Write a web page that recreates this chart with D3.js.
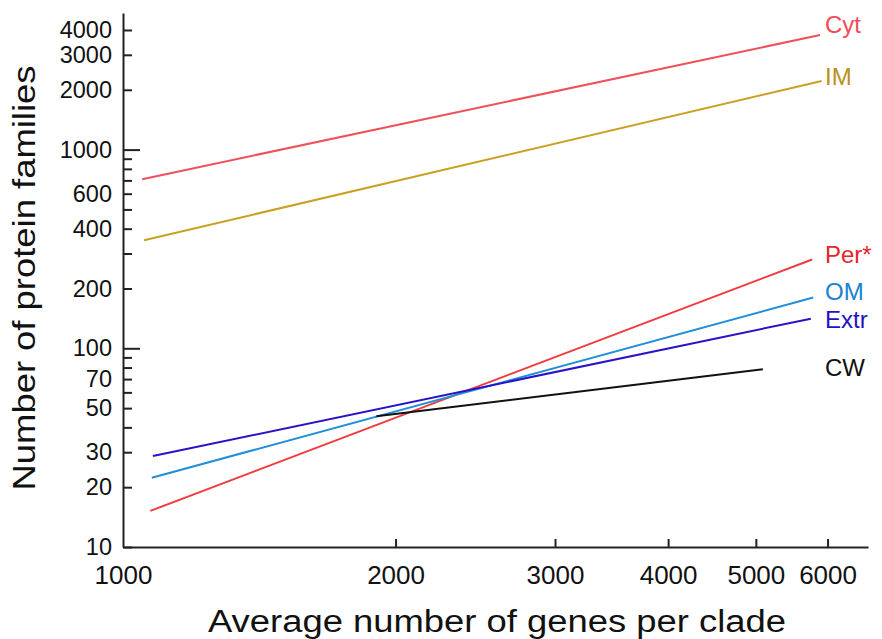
<!DOCTYPE html>
<html>
<head>
<meta charset="utf-8">
<script src="https://cdn.jsdelivr.net/npm/d3@7"></script>
<style>
  body { margin: 0; background: #fff; }
  svg text { font-family: "Liberation Sans", Arial, sans-serif; }
</style>
</head>
<body>
<svg id="chart" width="882" height="639"></svg>
<script>
// series (log-log fit lines, start and end points)
var series = ['Cyt', 'IM', 'Per*', 'OM', 'Extr', 'CW'];
var xStart = [1050, 1055, 1072, 1076, 1079, 1905];
var xEnd = [5886, 5910, 5770, 5785, 5750, 5090];
var yStart = [710, 350, 15.2, 22.3, 28.7, 45.5];
var yEnd = [3772, 2213, 280, 180, 141, 78.5];

var xTicks = [1000, 2000, 3000, 4000, 5000, 6000];
var yTicks = [10, 20, 30, 40, 50, 60, 70, 80, 90, 100,
  200, 300, 400, 500, 600, 700, 800, 900, 1000, 2000, 3000, 4000];
var yLabels = [10, 20, 30, 50, 70, 100, 200, 400, 600, 1000, 2000, 3000, 4000];

var lineColors = ['#f0505a', '#c9a020', '#f03a3e', '#1f8fd8', '#2a12c8', '#111111'];
var textColors = ['#ee4d57', '#b8921c', '#e8242c', '#1a82cf', '#2312c2', '#111111'];
var labelDy = [-10, -4, -5, -6, 1, -1.5];

var svg = d3.select('#chart');

var x = d3.scaleLog().domain([1000, 6650]).range([123, 868]);
var y = d3.scaleLog().domain([10, 4870]).range([547, 13]);

var xAxis = d3.axisBottom(x)
  .tickValues(xTicks)
  .tickSizeInner(-8)
  .tickSizeOuter(0)
  .tickPadding(19)
  .tickFormat(d3.format('d'));

var yAxis = d3.axisLeft(y)
  .tickValues(yTicks)
  .tickSizeInner(-9)
  .tickSizeOuter(0)
  .tickPadding(11)
  .tickFormat(function (d) { return yLabels.indexOf(d) >= 0 ? d : ''; });

var gx = svg.append('g')
  .attr('transform', 'translate(0,547)')
  .call(xAxis);

var gy = svg.append('g')
  .attr('transform', 'translate(123,0)')
  .call(yAxis);

[gx, gy].forEach(function (g) {
  g.select('.domain').attr('stroke', '#222').attr('stroke-width', 2);
  g.selectAll('.tick line').attr('stroke', '#222').attr('stroke-width', 2);
  g.selectAll('.tick text').attr('fill', '#111');
});
gx.selectAll('.tick text').style('font-size', '26px');
gy.selectAll('.tick text').style('font-size', '23.5px');

// longer ticks at the decades
gy.selectAll('.tick line')
  .filter(function (d) { return d === 100 || d === 1000; })
  .attr('x2', 17);
gx.selectAll('.tick')
  .filter(function (d) { return d === 1000; })
  .select('line').remove();

var lineGen = d3.line()
  .x(function (d) { return x(d[0]); })
  .y(function (d) { return y(d[1]); });

series.forEach(function (name, i) {
  svg.append('path')
    .attr('d', lineGen([[xStart[i], yStart[i]], [xEnd[i], yEnd[i]]]))
    .attr('stroke', lineColors[i])
    .attr('stroke-width', 2)
    .attr('fill', 'none');

  svg.append('text')
    .attr('x', 825)
    .attr('y', y(yEnd[i]) + labelDy[i])
    .attr('dy', '0.35em')
    .attr('fill', textColors[i])
    .style('font-size', '24px')
    .text(name);
});

svg.append('text')
  .attr('x', 497)
  .attr('y', 632)
  .attr('text-anchor', 'middle')
  .attr('fill', '#111')
  .attr('textLength', 578)
  .attr('lengthAdjust', 'spacingAndGlyphs')
  .style('font-size', '31px')
  .text('Average number of genes per clade');

svg.append('text')
  .attr('transform', 'translate(35,278) rotate(-90)')
  .attr('text-anchor', 'middle')
  .attr('fill', '#111')
  .attr('textLength', 425)
  .attr('lengthAdjust', 'spacingAndGlyphs')
  .style('font-size', '31px')
  .text('Number of protein families');
</script>
</body>
</html>
